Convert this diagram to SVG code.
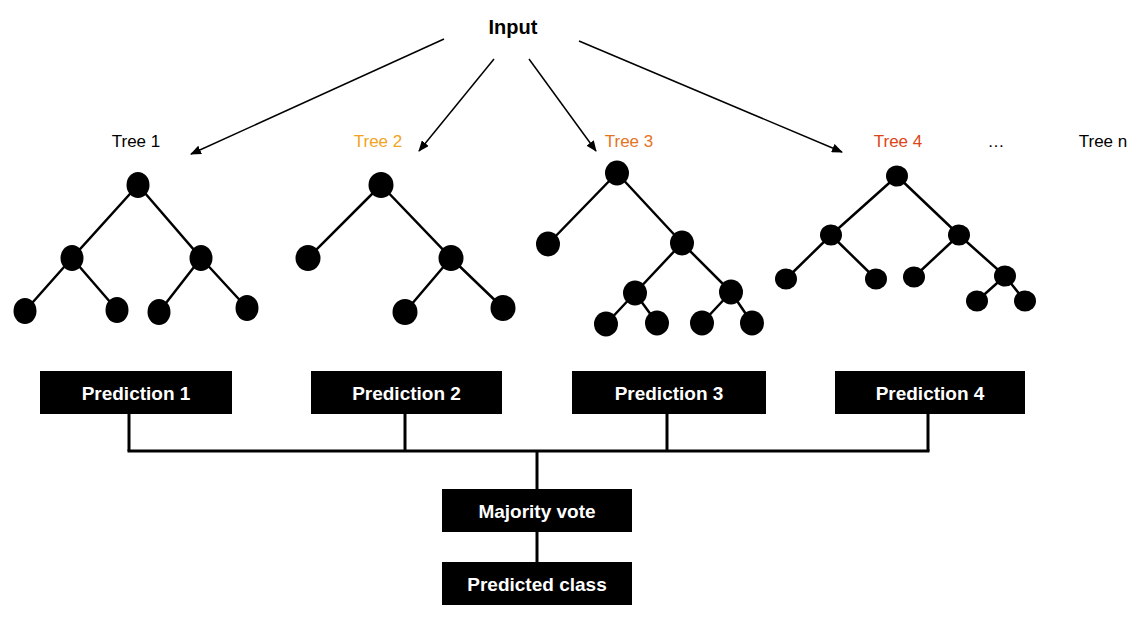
<svg xmlns="http://www.w3.org/2000/svg" width="1138" height="619" viewBox="0 0 1138 619">
<style>
text{font-family:"Liberation Sans",Arial,Helvetica,sans-serif}
.lbl{font-size:17px;text-anchor:middle}
.box{fill:#000}
.boxt{fill:#fff;font-size:19px;font-weight:bold;text-anchor:middle}
.edge{stroke:#000;stroke-width:2.5;fill:none}
.arrow{stroke:#000;stroke-width:1.5;fill:none;marker-end:url(#ah)}
.conn{stroke:#000;stroke-width:3;fill:none}
.nd{fill:#000}
</style>
<defs>
<marker id="ah" markerUnits="userSpaceOnUse" markerWidth="11" markerHeight="9" refX="10" refY="4.5" orient="auto">
<path d="M0,0 L11,4.5 L0,9 z" fill="#000"/>
</marker>
</defs>
<rect width="1138" height="619" fill="#fff"/>
<g id="input"><text x="513" y="34" font-size="20" font-weight="bold" text-anchor="middle">Input</text></g>
<g id="connectors">
<line class="arrow" x1="444" y1="39" x2="191" y2="154"/>
<line class="arrow" x1="494" y1="59" x2="419" y2="151"/>
<line class="arrow" x1="529" y1="59" x2="596" y2="151"/>
<line class="arrow" x1="579" y1="41" x2="842" y2="152"/>
<line class="conn" x1="129" y1="414" x2="129" y2="451"/>
<line class="conn" x1="405" y1="414" x2="405" y2="451"/>
<line class="conn" x1="667" y1="414" x2="667" y2="451"/>
<line class="conn" x1="928" y1="414" x2="928" y2="451"/>
<line class="conn" x1="127.5" y1="451" x2="929.5" y2="451"/>
<line class="conn" x1="537" y1="451" x2="537" y2="490"/>
<line class="conn" x1="537" y1="532" x2="537" y2="562"/>
</g>
<g id="label-tree1"><text class="lbl" x="136" y="147" fill="#000">Tree 1</text></g>
<g id="label-tree2"><text class="lbl" x="378" y="147" fill="#F2A321">Tree 2</text></g>
<g id="label-tree3"><text class="lbl" x="629" y="147" fill="#E5731E">Tree 3</text></g>
<g id="label-tree4"><text class="lbl" x="898" y="147" fill="#DD4417">Tree 4</text></g>
<g id="label-dots"><text class="lbl" x="996" y="147" fill="#000">…</text></g>
<g id="label-treen"><text class="lbl" x="1103" y="147" fill="#000">Tree n</text></g>
<g id="tree1">
<path class="edge" d="M138,185 L72,258 M138,185 L201,258 M72,258 L25,311 M72,258 L117,310 M201,258 L159,312 M201,258 L247,308"/>
<ellipse class="nd" cx="138" cy="185" rx="11.5" ry="13"/>
<ellipse class="nd" cx="72" cy="258" rx="11.5" ry="13"/>
<ellipse class="nd" cx="201" cy="258" rx="11.5" ry="13"/>
<ellipse class="nd" cx="25" cy="311" rx="11.5" ry="13"/>
<ellipse class="nd" cx="117" cy="310" rx="11.5" ry="13"/>
<ellipse class="nd" cx="159" cy="312" rx="11.5" ry="13"/>
<ellipse class="nd" cx="247" cy="308" rx="11.5" ry="13"/>
</g>
<g id="tree2">
<path class="edge" d="M381,185 L308,258 M381,185 L451,258 M451,258 L405,312 M451,258 L503,308"/>
<ellipse class="nd" cx="381" cy="185" rx="12.5" ry="13"/>
<ellipse class="nd" cx="308" cy="258" rx="12.5" ry="13"/>
<ellipse class="nd" cx="451" cy="258" rx="12.5" ry="13"/>
<ellipse class="nd" cx="405" cy="312" rx="12.5" ry="13"/>
<ellipse class="nd" cx="503" cy="308" rx="12.5" ry="13"/>
</g>
<g id="tree3">
<path class="edge" d="M617,173 L548,244 M617,173 L682,243 M682,243 L635,293 M682,243 L731,292 M635,293 L606,324 M635,293 L657,323 M731,292 L702,323 M731,292 L752,323"/>
<ellipse class="nd" cx="617" cy="173" rx="12" ry="12.5"/>
<ellipse class="nd" cx="548" cy="244" rx="12" ry="12.5"/>
<ellipse class="nd" cx="682" cy="243" rx="12" ry="12.5"/>
<ellipse class="nd" cx="635" cy="293" rx="12" ry="12.5"/>
<ellipse class="nd" cx="731" cy="292" rx="12" ry="12.5"/>
<ellipse class="nd" cx="606" cy="324" rx="12" ry="12.5"/>
<ellipse class="nd" cx="657" cy="323" rx="12" ry="12.5"/>
<ellipse class="nd" cx="702" cy="323" rx="12" ry="12.5"/>
<ellipse class="nd" cx="752" cy="323" rx="12" ry="12.5"/>
</g>
<g id="tree4">
<path class="edge" d="M897,176 L831,235 M897,176 L959,235 M831,235 L786,279 M831,235 L876,279 M959,235 L914,277 M959,235 L1005,276 M1005,276 L977,301 M1005,276 L1025,301"/>
<ellipse class="nd" cx="897" cy="176" rx="11" ry="10.5"/>
<ellipse class="nd" cx="831" cy="235" rx="11" ry="10.5"/>
<ellipse class="nd" cx="959" cy="235" rx="11" ry="10.5"/>
<ellipse class="nd" cx="786" cy="279" rx="11" ry="10.5"/>
<ellipse class="nd" cx="876" cy="279" rx="11" ry="10.5"/>
<ellipse class="nd" cx="914" cy="277" rx="11" ry="10.5"/>
<ellipse class="nd" cx="1005" cy="276" rx="11" ry="10.5"/>
<ellipse class="nd" cx="977" cy="301" rx="11" ry="10.5"/>
<ellipse class="nd" cx="1025" cy="301" rx="11" ry="10.5"/>
</g>
<g id="prediction1"><rect class="box" x="40" y="371" width="192" height="43"/><text class="boxt" x="136" y="399.5">Prediction 1</text></g>
<g id="prediction2"><rect class="box" x="311" y="371" width="191" height="43"/><text class="boxt" x="406.5" y="399.5">Prediction 2</text></g>
<g id="prediction3"><rect class="box" x="572" y="371" width="194" height="43"/><text class="boxt" x="669" y="399.5">Prediction 3</text></g>
<g id="prediction4"><rect class="box" x="835" y="371" width="190" height="43"/><text class="boxt" x="930" y="399.5">Prediction 4</text></g>
<g id="majority-vote"><rect class="box" x="442" y="489" width="190" height="43"/><text class="boxt" x="537" y="517.5">Majority vote</text></g>
<g id="predicted-class"><rect class="box" x="442" y="562" width="190" height="43"/><text class="boxt" x="537" y="590.5">Predicted class</text></g>
</svg>
